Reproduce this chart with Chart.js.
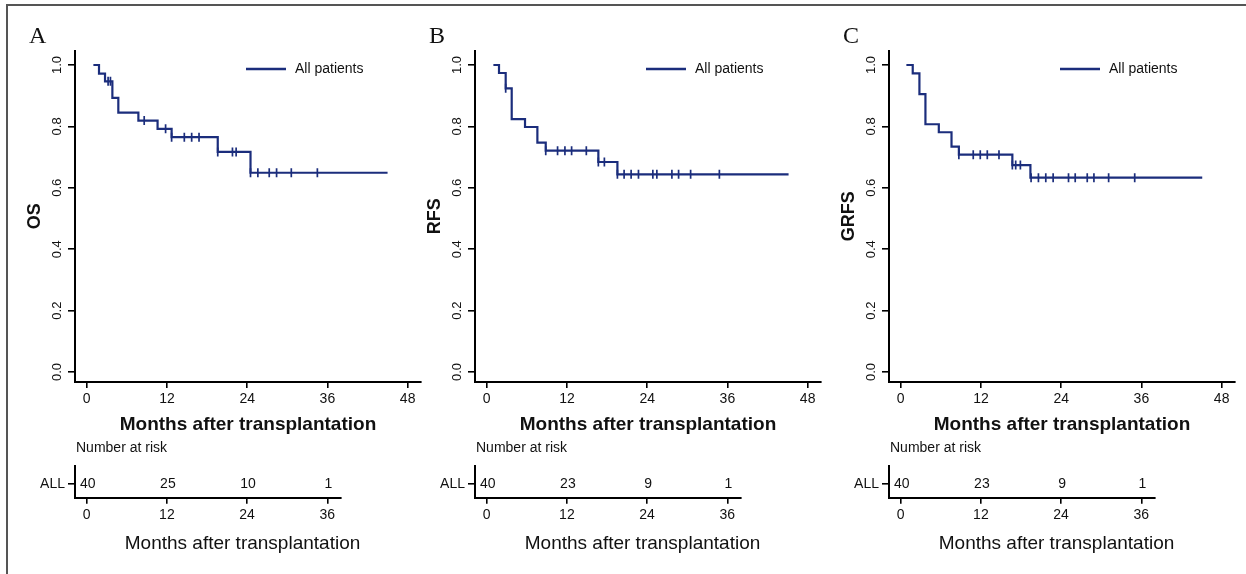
<!DOCTYPE html>
<html>
<head>
<meta charset="utf-8">
<title>Survival after transplantation</title>
<script src="https://cdn.jsdelivr.net/npm/chart.js@4.4.0/dist/chart.umd.min.js"></script>
<style>
  html, body { margin: 0; padding: 0; background: #fff; }
  #page { position: relative; width: 1246px; height: 574px; overflow: hidden; }
  #frame { position: absolute; left: 6px; top: 4px; width: 1260px; height: 600px;
           border-top: 2px solid #555; border-left: 2px solid #555; }
  canvas { position: absolute; }
</style>
</head>
<body>
<div id="page">
  <div id="frame"></div>
</div>
<script>
// ---- data ----
var panelLetters = ['A', 'B', 'C'];
var yTitles = ['OS', 'RFS', 'GRFS'];
var xTickValues = [0, 12, 24, 36, 48];
var yTickValues = [0, 0.2, 0.4, 0.6, 0.8, 1.0];
var riskTimes = [0, 12, 24, 36];
var riskGroups = ['ALL'];
var legendLabel = 'All patients';
var xTitle = 'Months after transplantation';

// Kaplan-Meier steps (time in months, survival after the step)
var osTimes  = [1.0, 1.84, 2.74, 3.84, 4.73, 7.73, 10.6, 12.7, 19.6, 24.5, 45.0];
var osValues = [1.0, 0.972, 0.947, 0.893, 0.845, 0.819, 0.792, 0.765, 0.717, 0.649, 0.649];
var osCensored = [3.2, 3.55, 8.6, 11.8, 12.7, 14.6, 15.7, 16.8, 19.6, 21.8, 22.35, 24.5, 25.6, 27.3, 28.4, 30.6, 34.5];
var osAtRisk = [40, 25, 10, 1];

var rfsTimes  = [1.0, 1.84, 2.84, 3.74, 5.73, 7.58, 8.83, 16.7, 19.55, 45.15];
var rfsValues = [1.0, 0.974, 0.924, 0.824, 0.798, 0.747, 0.721, 0.684, 0.644, 0.644];
var rfsCensored = [2.84, 8.83, 10.6, 11.7, 12.7, 14.9, 16.7, 17.6, 19.55, 20.55, 21.6, 22.7, 24.85, 25.45, 27.7, 28.7, 30.5, 34.8];
var rfsAtRisk = [40, 23, 9, 1];

var grfsTimes  = [0.85, 1.8, 2.8, 3.7, 5.7, 7.6, 8.7, 16.7, 19.4, 45.1];
var grfsValues = [1.0, 0.973, 0.905, 0.807, 0.781, 0.734, 0.708, 0.674, 0.633, 0.633];
var grfsCensored = [8.7, 10.85, 11.9, 12.95, 14.7, 16.7, 17.2, 17.9, 19.5, 20.6, 21.7, 22.8, 25.1, 26.1, 27.9, 28.9, 31.1, 35.0];
var grfsAtRisk = [40, 23, 9, 1];

// ---- styling ----
var navy = '#1b2d7c';
var ink = '#111';
var FONT = '"Liberation Sans", Arial, Helvetica, sans-serif';
var panelLeft = [0, 400, 813.5];

// survival value in force at time t (censor marks sit on the curve)
function stepValue(times, values, t) {
  var v = values[0];
  for (var i = 0; i < times.length; i++) {
    if (times[i] <= t + 1e-9) v = values[i];
  }
  return v;
}

function addCanvas(id, left, top, w, h) {
  var c = document.createElement('canvas');
  c.id = id;
  c.width = w; c.height = h;
  c.style.left = left + 'px'; c.style.top = top + 'px';
  c.style.width = w + 'px'; c.style.height = h + 'px';
  document.getElementById('page').appendChild(c);
  return c;
}

function axisGrid(len) {
  return { display: true, drawOnChartArea: false, drawTicks: true, tickLength: len, color: '#000', lineWidth: 1.6 };
}

// panel letter + legend
var mainDecor = {
  id: 'mainDecor',
  afterDraw: function(chart, args, opts) {
    var ctx = chart.ctx;
    ctx.save();
    ctx.fillStyle = ink;
    ctx.font = '24px "Liberation Serif", "Times New Roman", serif';
    ctx.textBaseline = 'alphabetic';
    ctx.textAlign = 'left';
    ctx.fillText(opts.letter, 29, 42.7);

    ctx.strokeStyle = navy;
    ctx.lineWidth = 2.6;
    ctx.beginPath();
    ctx.moveTo(246, 69);
    ctx.lineTo(286, 69);
    ctx.stroke();
    ctx.font = '14px ' + FONT;
    ctx.textBaseline = 'middle';
    ctx.fillText(legendLabel, 295, 69);
    ctx.restore();
  }
};

// numbers at risk, header and axis caption of the risk table
var riskDecor = {
  id: 'riskDecor',
  afterDraw: function(chart, args, opts) {
    var ctx = chart.ctx;
    var xs = chart.scales.x, ys = chart.scales.y;
    ctx.save();
    ctx.fillStyle = ink;
    ctx.font = '14px ' + FONT;
    ctx.textBaseline = 'middle';
    ctx.textAlign = 'center';
    var rowY = ys.getPixelForValue(0.42);
    opts.counts.forEach(function(n, i) {
      ctx.fillText(String(n), xs.getPixelForValue(riskTimes[i]) + 1, rowY);
    });
    ctx.textAlign = 'left';
    ctx.fillText('Number at risk', chart.chartArea.left + 1, chart.chartArea.top - 17.5);
    ctx.font = '19px ' + FONT;
    ctx.textAlign = 'center';
    ctx.fillText(xTitle, 242.5, 103.5);
    ctx.restore();
  }
};

function makeMain(idx, times, values, censored) {
  var canvas = addCanvas('main' + idx, panelLeft[idx], 0, 430, 442);
  var curve = times.map(function(t, i) { return { x: t, y: values[i] }; });
  var marks = censored.map(function(t) { return { x: t, y: stepValue(times, values, t) }; });
  return new Chart(canvas, {
    type: 'scatter',
    data: {
      datasets: [
        { data: curve, showLine: true, stepped: true, borderColor: navy, borderWidth: 2.2,
          pointRadius: 0, fill: false },
        { data: marks, showLine: false, pointStyle: 'line', pointRotation: 90, pointRadius: 4.5,
          pointBorderColor: navy, pointBorderWidth: 1.7, pointBackgroundColor: navy }
      ]
    },
    plugins: [mainDecor],
    options: {
      responsive: false,
      animation: false,
      events: [],
      layout: { padding: { left: 0, top: 50.7, right: 9, bottom: 0 } },
      plugins: {
        legend: { display: false },
        tooltip: { enabled: false },
        mainDecor: { letter: panelLetters[idx] }
      },
      scales: {
        x: {
          type: 'linear', min: -1.75, max: 50,
          afterBuildTicks: function(s) { s.ticks = xTickValues.map(function(v) { return { value: v }; }); },
          afterFit: function(s) { s.height = 60; },
          grid: axisGrid(6),
          border: { display: true, color: '#000', width: 2 },
          ticks: { color: ink, font: { family: FONT, size: 14 }, padding: 2.5, maxRotation: 0,
                   callback: function(v) { return String(v); } },
          title: { display: true, text: xTitle, color: ink,
                   font: { family: FONT, size: 19, weight: 'bold' }, padding: { top: 0, bottom: 5.6 } }
        },
        y: {
          type: 'linear', min: -0.0326, max: 1.0466,
          afterBuildTicks: function(s) { s.ticks = yTickValues.map(function(v) { return { value: v }; }); },
          afterFit: function(s) { s.width = 75; },
          grid: axisGrid(7),
          border: { display: true, color: '#000', width: 2 },
          ticks: { color: ink, font: { family: FONT, size: 13 }, padding: 1.5,
                   minRotation: 90, maxRotation: 90, crossAlign: 'center',
                   callback: function(v) { return v.toFixed(1); } },
          title: { display: true, text: yTitles[idx], color: ink,
                   font: { family: FONT, size: 18, weight: 'bold' }, padding: { top: 24.2, bottom: 0 } }
        }
      }
    }
  });
}

function makeRisk(idx, counts) {
  var canvas = addCanvas('risk' + idx, panelLeft[idx], 440, 430, 122);
  return new Chart(canvas, {
    type: 'scatter',
    data: { datasets: [{ data: [], pointRadius: 0 }] },
    plugins: [riskDecor],
    options: {
      responsive: false,
      animation: false,
      events: [],
      layout: { padding: { left: 0, top: 25.7, right: 89.3, bottom: 0 } },
      plugins: {
        legend: { display: false },
        tooltip: { enabled: false },
        riskDecor: { counts: counts }
      },
      scales: {
        x: {
          type: 'linear', min: -1.75, max: 38,
          afterBuildTicks: function(s) { s.ticks = riskTimes.map(function(v) { return { value: v }; }); },
          afterFit: function(s) { s.height = 64.3; },
          grid: axisGrid(6),
          border: { display: true, color: '#000', width: 2 },
          ticks: { color: ink, font: { family: FONT, size: 14 }, padding: 3, maxRotation: 0,
                   callback: function(v) { return String(v); } }
        },
        y: {
          type: 'linear', min: 0, max: 1,
          afterBuildTicks: function(s) { s.ticks = [{ value: 0.42 }]; },
          afterFit: function(s) { s.width = 75; },
          grid: axisGrid(7),
          border: { display: true, color: '#000', width: 2 },
          ticks: { color: ink, font: { family: FONT, size: 14 }, padding: 3,
                   callback: function() { return riskGroups[0]; } }
        }
      }
    }
  });
}

makeMain(0, osTimes, osValues, osCensored);
makeMain(1, rfsTimes, rfsValues, rfsCensored);
makeMain(2, grfsTimes, grfsValues, grfsCensored);
makeRisk(0, osAtRisk);
makeRisk(1, rfsAtRisk);
makeRisk(2, grfsAtRisk);
</script>
</body>
</html>
